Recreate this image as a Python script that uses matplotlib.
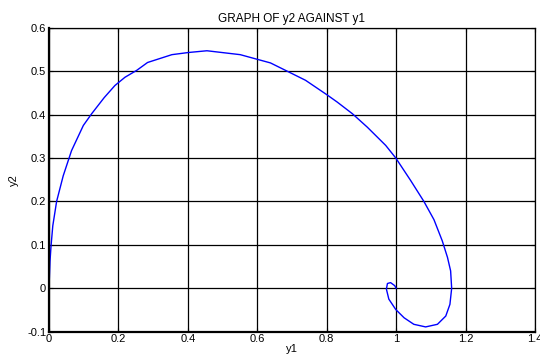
import matplotlib
matplotlib.use("Agg")
import matplotlib.pyplot as plt

# y1 / y2 trajectory
y1 = [0.0, 0.003, 0.006, 0.011, 0.022, 0.041, 0.065, 0.099, 0.123, 0.159,
      0.19, 0.219, 0.253, 0.284, 0.354, 0.402, 0.455, 0.551, 0.638, 0.681,
      0.739, 0.8, 0.83, 0.874, 0.917, 0.97, 0.999, 1.042, 1.08, 1.109,
      1.133, 1.148, 1.157, 1.16, 1.155, 1.143, 1.119, 1.085, 1.051, 1.023,
      0.999, 0.979, 0.972, 0.975, 0.984, 0.996, 1.0]
y2 = [0.0, 0.063, 0.098, 0.144, 0.2, 0.259, 0.317, 0.375, 0.402, 0.439,
      0.467, 0.486, 0.502, 0.52, 0.538, 0.543, 0.547, 0.538, 0.519, 0.502,
      0.479, 0.446, 0.429, 0.402, 0.371, 0.329, 0.3, 0.248, 0.2, 0.158,
      0.109, 0.071, 0.04, 0.0, -0.037, -0.064, -0.083, -0.089, -0.083, -0.068,
      -0.049, -0.025, -0.002, 0.011, 0.013, 0.006, 0.0]

xticks = [0, 0.2, 0.4, 0.6, 0.8, 1, 1.2, 1.4]
yticks = [-0.1, 0, 0.1, 0.2, 0.3, 0.4, 0.5, 0.6]

plt.rcParams['font.family'] = ['Liberation Sans', 'DejaVu Sans']

fig = plt.figure(figsize=(5.4, 3.58), dpi=100)
ax = fig.add_axes([0.0907, 0.0735, 0.9, 0.849])

ax.plot(y1, y2, color='blue', linewidth=1)

ax.set_xlim(0, 1.4)
ax.set_ylim(-0.1, 0.6)
ax.set_xticks(xticks)
ax.set_xticklabels([f"{t:g}" for t in xticks])
ax.set_yticks(yticks)
ax.set_yticklabels([f"{t:g}" for t in yticks])
ax.grid(True, color='black', linewidth=0.9, linestyle='-')
ax.set_axisbelow(True)
ax.tick_params(direction='in', length=3, labelsize=8, top=True, right=True,
               width=0.8, pad=2)

for side in ['left', 'bottom']:
    ax.spines[side].set_linewidth(1.6)
for side in ['top', 'right']:
    ax.spines[side].set_linewidth(0.9)

ax.set_title('GRAPH OF y2 AGAINST y1', fontsize=8.5, pad=4)
ax.set_xlabel('y1', fontsize=8, labelpad=0)
ax.set_ylabel('y2', fontsize=8, labelpad=6)

fig.savefig('out.png', dpi=100)
